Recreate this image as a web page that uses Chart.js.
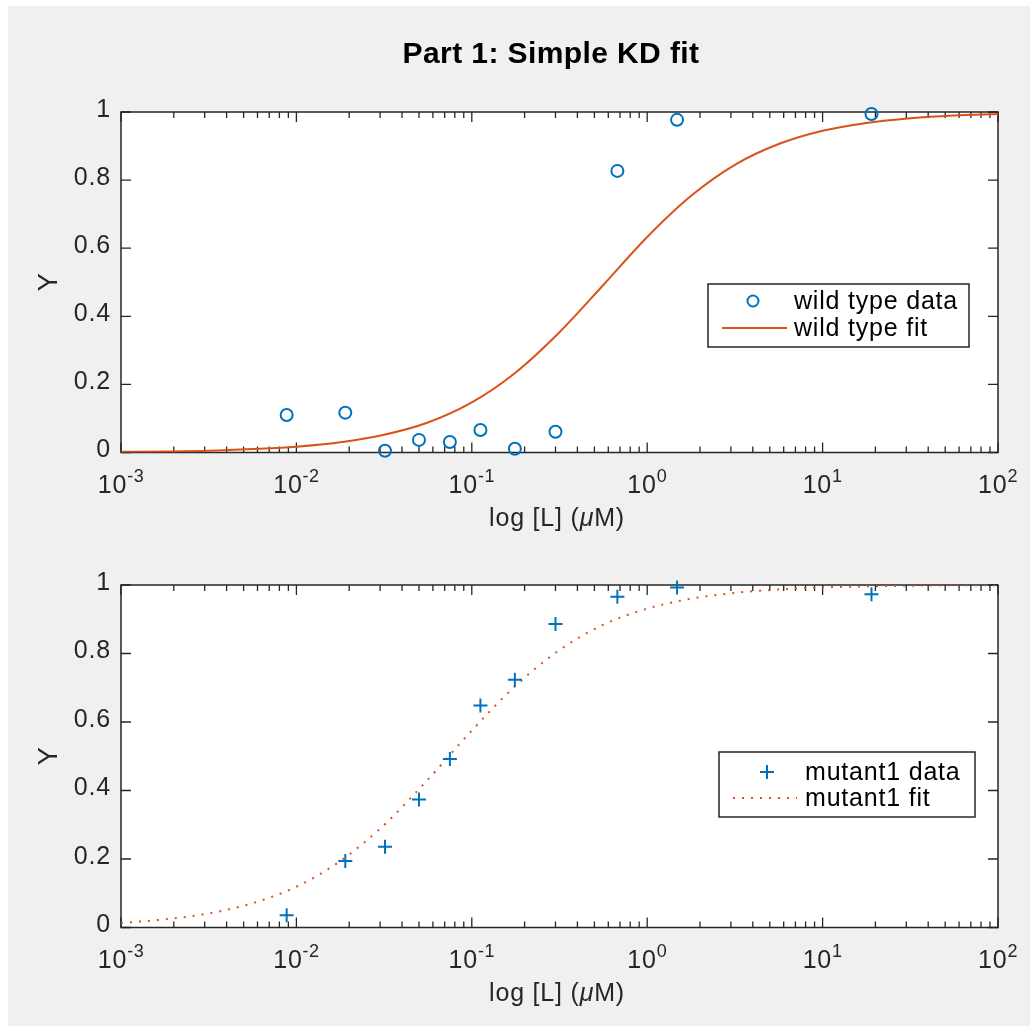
<!DOCTYPE html>
<html>
<head>
<meta charset="utf-8">
<script src="https://cdn.jsdelivr.net/npm/chart.js@4"></script>
<style>
  html, body { margin: 0; padding: 0; background: #fff; }
  #frame { position: absolute; left: 8px; top: 6px; width: 1022px; height: 1020px; background: #f0f0f0; }
  canvas { position: absolute; left: 0; }
  #c1 { top: 0; }
  #c2 { top: 540px; }
</style>
</head>
<body>
<div id="frame"></div>
<canvas id="c1" width="1036" height="540"></canvas>
<canvas id="c2" width="1036" height="493"></canvas>
<script>
// measured concentrations and binding fractions
const concentrations = [0.0088, 0.019, 0.032, 0.05, 0.075, 0.112, 0.176, 0.3, 0.676, 1.48, 19.0];
const wildTypeY = [0.110, 0.117, 0.005, 0.037, 0.031, 0.066, 0.011, 0.061, 0.827, 0.977, 0.994];
const mutant1Y = [0.036, 0.194, 0.236, 0.374, 0.492, 0.648, 0.723, 0.886, 0.966, 0.993, 0.973];

// fitted curves
const fitX = [0.001, 0.00178, 0.00316, 0.00562, 0.01, 0.0178, 0.0316, 0.0562, 0.1, 0.178, 0.316,
    0.562, 1, 1.78, 3.16, 5.62, 10, 17.8, 31.6, 56.2, 100];
const wildTypeFitY = [0.002, 0.003, 0.005, 0.010, 0.017, 0.030, 0.052, 0.088, 0.147, 0.235, 0.353,
    0.492, 0.633, 0.754, 0.845, 0.906, 0.945, 0.968, 0.982, 0.990, 0.994];
const mutant1FitY = [0.013, 0.024, 0.041, 0.071, 0.119, 0.194, 0.299, 0.432, 0.575, 0.706, 0.810,
    0.884, 0.931, 0.960, 0.977, 0.987, 0.993, 0.996, 0.998, 0.999, 0.999];

// axis ticks
const xMajorTicks = [1e-3, 1e-2, 1e-1, 1, 10, 100];
const xTickExponents = ['-3', '-2', '-1', '0', '1', '2'];
const yTicks = [0, 0.2, 0.4, 0.6, 0.8, 1];
const yTickLabels = ['0', '0.2', '0.4', '0.6', '0.8', '1'];

const BLUE = '#0072bd';
const ORANGE = '#d95319';
const AXIS = '#262626';
const FONT = '"Liberation Sans", Arial, Helvetica, sans-serif';
const SP = '0.8px';

function setFont(ctx, font, spacing) {
    ctx.font = font;
    ctx.letterSpacing = spacing || '0px';
}

// MATLAB-like box axes, inward ticks, labels and legend
const matlabAxes = {
    id: 'matlabAxes',
    beforeDraw(chart) {
        const a = chart.chartArea;
        const ctx = chart.ctx;
        ctx.save();
        ctx.fillStyle = '#ffffff';
        ctx.fillRect(a.left, a.top, a.right - a.left, a.bottom - a.top);
        ctx.restore();
    },
    beforeDatasetsDraw(chart) {
        const a = chart.chartArea;
        const ctx = chart.ctx;
        const xs = chart.scales.x;
        const ys = chart.scales.y;
        ctx.save();
        ctx.strokeStyle = AXIS;
        ctx.lineWidth = 1.5;
        ctx.strokeRect(a.left, a.top, a.right - a.left, a.bottom - a.top);

        ctx.lineWidth = 1.3;
        ctx.beginPath();
        // x ticks, major and minor, top and bottom
        for (let d = -3; d <= 2; d++) {
            for (let m = 1; m <= 9; m++) {
                const v = m * Math.pow(10, d);
                if (v > 100.0001) break;
                const px = xs.getPixelForValue(v);
                const len = m === 1 ? 10 : 6;
                ctx.moveTo(px, a.bottom);
                ctx.lineTo(px, a.bottom - len);
                ctx.moveTo(px, a.top);
                ctx.lineTo(px, a.top + len);
            }
        }
        yTicks.forEach(v => {
            const py = ys.getPixelForValue(v);
            ctx.moveTo(a.left, py);
            ctx.lineTo(a.left + 10, py);
            ctx.moveTo(a.right, py);
            ctx.lineTo(a.right - 10, py);
        });
        ctx.stroke();

        // tick labels
        ctx.fillStyle = AXIS;
        ctx.textBaseline = 'alphabetic';
        xMajorTicks.forEach((v, i) => {
            const px = xs.getPixelForValue(v);
            setFont(ctx, '25px ' + FONT, SP);
            const w1 = ctx.measureText('10').width;
            setFont(ctx, '18px ' + FONT, '0.5px');
            const w2 = ctx.measureText(xTickExponents[i]).width;
            const x0 = px - (w1 + w2) / 2;
            const base = a.bottom + 40.5;
            setFont(ctx, '25px ' + FONT, SP);
            ctx.textAlign = 'left';
            ctx.fillText('10', x0, base);
            setFont(ctx, '18px ' + FONT, '0.5px');
            ctx.fillText(xTickExponents[i], x0 + w1, base - 11);
        });
        setFont(ctx, '25px ' + FONT, SP);
        ctx.textAlign = 'right';
        ctx.textBaseline = 'middle';
        yTicks.forEach((v, i) => {
            ctx.fillText(yTickLabels[i], a.left - 10, ys.getPixelForValue(v) - 2);
        });

        // axis labels
        ctx.textBaseline = 'alphabetic';
        ctx.textAlign = 'left';
        const parts = [['log [L] (', '25px '], ['\u03bc', 'italic 25px '], ['M)', '25px ']];
        let total = 0;
        parts.forEach(p => { setFont(ctx, p[1] + FONT, SP); total += ctx.measureText(p[0]).width; });
        let x = 557 - total / 2;
        parts.forEach(p => {
            setFont(ctx, p[1] + FONT, SP);
            ctx.fillText(p[0], x, a.bottom + 73.5);
            x += ctx.measureText(p[0]).width;
        });

        ctx.save();
        ctx.translate(57, (a.top + a.bottom) / 2);
        ctx.rotate(-Math.PI / 2);
        setFont(ctx, '27px ' + FONT, '0px');
        ctx.textAlign = 'center';
        ctx.fillText('Y', 0, 0);
        ctx.restore();

        const t = chart.options.plugins.matlabAxes;
        if (t.title) {
            ctx.fillStyle = '#000000';
            setFont(ctx, 'bold 30px ' + FONT, '0.4px');
            ctx.textAlign = 'center';
            ctx.fillText(t.title, 551, 63);
        }
        ctx.restore();
    },
    afterDraw(chart) {
        const o = chart.options.plugins.matlabAxes;
        const L = o.legend;
        const ctx = chart.ctx;
        const ds = chart.data.datasets;
        ctx.save();
        ctx.fillStyle = '#ffffff';
        ctx.fillRect(L.x, L.y, L.w, L.h);
        ctx.strokeStyle = AXIS;
        ctx.lineWidth = 1.5;
        ctx.strokeRect(L.x, L.y, L.w, L.h);

        // marker row
        const mx = L.x + L.markerX;
        const my = L.y + L.row1;
        ctx.strokeStyle = BLUE;
        ctx.lineWidth = 2;
        ctx.beginPath();
        if (ds[0].pointStyle === 'cross') {
            ctx.moveTo(mx - 7, my); ctx.lineTo(mx + 7, my);
            ctx.moveTo(mx, my - 7); ctx.lineTo(mx, my + 7);
        } else {
            ctx.arc(mx, my, 5.5, 0, Math.PI * 2);
        }
        ctx.stroke();

        // line row
        const ly = L.y + L.row2;
        ctx.strokeStyle = ORANGE;
        ctx.lineWidth = 2;
        ctx.setLineDash(ds[1].borderDash || []);
        ctx.beginPath();
        ctx.moveTo(L.x + L.lineX0, ly);
        ctx.lineTo(L.x + L.lineX1, ly);
        ctx.stroke();
        ctx.setLineDash([]);

        ctx.fillStyle = '#000000';
        setFont(ctx, '25px ' + FONT, SP);
        ctx.textAlign = 'left';
        ctx.textBaseline = 'alphabetic';
        ctx.fillText(ds[0].label, L.x + L.textX, L.y + L.row1 + 8);
        ctx.fillText(ds[1].label, L.x + L.textX, L.y + L.row2 + 8);
        ctx.restore();
    }
};

function makeChart(id, dataY, fitY, pad, extra) {
    const isMutant = extra.mutant;
    return new Chart(document.getElementById(id), {
        type: 'scatter',
        data: {
            datasets: [{
                label: isMutant ? 'mutant1 data' : 'wild type data',
                data: concentrations.map((c, i) => ({ x: c, y: dataY[i] })),
                pointStyle: isMutant ? 'cross' : 'circle',
                pointRadius: isMutant ? 7 : 6,
                borderColor: BLUE,
                backgroundColor: 'rgba(0,0,0,0)',
                pointBorderWidth: 2,
                showLine: false,
                clip: false
            }, {
                label: isMutant ? 'mutant1 fit' : 'wild type fit',
                data: fitX.map((c, i) => ({ x: c, y: fitY[i] })),
                showLine: true,
                pointRadius: 0,
                borderColor: ORANGE,
                borderWidth: 2,
                borderDash: isMutant ? [2, 7] : undefined,
                borderCapStyle: 'butt',
                cubicInterpolationMode: 'monotone',
                fill: false
            }]
        },
        options: {
            responsive: false,
            animation: false,
            events: [],
            layout: { padding: pad },
            scales: {
                x: { type: 'logarithmic', min: 0.001, max: 100, display: false },
                y: { type: 'linear', min: 0, max: 1, display: false }
            },
            plugins: {
                legend: { display: false },
                tooltip: { enabled: false },
                matlabAxes: extra
            }
        },
        plugins: [matlabAxes]
    });
}

makeChart('c1', wildTypeY, wildTypeFitY,
    { left: 121, right: 38, top: 112, bottom: 87.5 },
    {
        title: 'Part 1: Simple KD fit',
        legend: { x: 708, y: 284, w: 261, h: 63, row1: 17, row2: 44, markerX: 45, lineX0: 14, lineX1: 79, textX: 86 }
    });

makeChart('c2', mutant1Y, mutant1FitY,
    { left: 121, right: 38, top: 45, bottom: 105.5 },
    {
        mutant: true,
        legend: { x: 719, y: 212, w: 256, h: 65, row1: 20, row2: 46, markerX: 48, lineX0: 14, lineX1: 78, textX: 86 }
    });
</script>
</body>
</html>
